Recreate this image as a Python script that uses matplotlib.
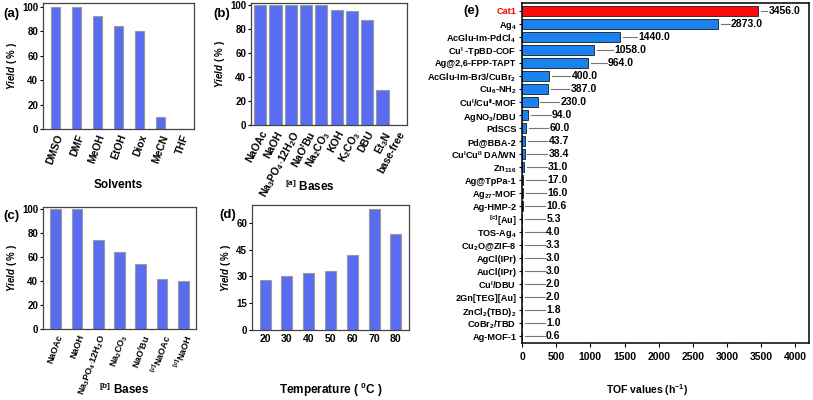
import matplotlib.pyplot as plt
import numpy as np

plt.rcParams['font.family'] = 'Liberation Sans'
plt.rcParams['font.weight'] = 'bold'
plt.rcParams['axes.labelweight'] = 'bold'
plt.rcParams['mathtext.fontset'] = 'custom'
plt.rcParams['mathtext.rm'] = 'Liberation Sans:bold'
plt.rcParams['mathtext.bf'] = 'Liberation Sans:bold'
plt.rcParams['mathtext.it'] = 'Liberation Sans:italic:bold'

# (a) solvents
solvents = ['DMSO', 'DMF', 'MeOH', 'EtOH', 'Diox', 'MeCN', 'THF']
solvent_yield = [100, 100, 92, 84, 80, 10, 0]

# (b) bases
bases_b = ['NaOAc', 'NaOH', r'Na$_3$PO$_4$$\cdot$12H$_2$O', r'NaO$^t$Bu', r'Na$_2$CO$_3$',
           'KOH', r'K$_2$CO$_3$', 'DBU', r'Et$_3$N', 'base-free']
bases_b_yield = [100, 100, 100, 100, 100, 96, 95, 88, 29, 0]

# (c) bases
bases_c = ['NaOAc', 'NaOH', r'Na$_3$PO$_4$$\cdot$12H$_2$O', r'Na$_2$CO$_3$', r'NaO$^t$Bu',
           r'$^{[c]}$NaOAc', r'$^{[c]}$NaOH']
bases_c_yield = [100, 100, 74, 64, 54, 42, 40]

# (d) temperature
temps = ['20', '30', '40', '50', '60', '70', '80']
temp_yield = [28, 30, 32, 33, 42, 68, 54]

# (e) TOF comparison
catalysts = ['Cat1', r'Ag$_4$', r'AcGlu-Im-PdCl$_4$', r'Cu$^{\mathrm{I}}$ -TpBD-COF', 'Ag@2,6-FPP-TAPT',
             r'AcGlu-Im-Br3/CuBr$_2$', r'Cu$_6$-NH$_2$', r'Cu$^{\mathrm{I}}$/Cu$^{\mathrm{II}}$-MOF',
             r'AgNO$_3$/DBU', 'PdSCS', 'Pd@BBA-2', r'Cu$^{\mathrm{I}}$Cu$^{\mathrm{II}}$ DA/WN',
             r'Zn$_{116}$', 'Ag@TpPa-1', r'Ag$_{27}$-MOF', 'Ag-HMP-2', r'$^{[c]}$[Au]',
             r'TOS-Ag$_4$', r'Cu$_2$O@ZIF-8', 'AgCl(IPr)', 'AuCl(IPr)', r'Cu$^{\mathrm{I}}$/DBU',
             '2Gn[TEG][Au]', r'ZnCl$_2$(TBD)$_2$', r'CoBr$_2$/TBD', 'Ag-MOF-1']
tof = [3456.0, 2873.0, 1440.0, 1058.0, 964.0, 400.0, 387.0, 230.0, 94.0, 60.0, 43.7, 38.4,
       31.0, 17.0, 16.0, 10.6, 5.3, 4.0, 3.3, 3.0, 3.0, 2.0, 2.0, 1.8, 1.0, 0.6]

BAR = '#5a6cf2'
EDGE = '#9a9a9a'
W, H = 813, 400

fig = plt.figure(figsize=(8.13, 4.0), dpi=100)


def px_axes(l, t, r, b):
    return fig.add_axes([l / W, 1 - b / H, (r - l) / W, (b - t) / H])


def yield_panel(ax, labels, vals, width, rot, ylim, yticks, fs=7.5):
    x = np.arange(len(vals))
    ax.bar(x, vals, width=width, color=BAR, edgecolor=EDGE, linewidth=0.8)
    ax.set_xlim(-0.6, len(vals) - 0.4)
    ax.set_ylim(*ylim)
    ax.set_yticks(yticks)
    ax.set_xticks(x)
    if rot:
        ax.set_xticklabels(labels, rotation=rot, ha='right', rotation_mode='anchor', fontsize=fs)
    else:
        ax.set_xticklabels(labels, fontsize=fs)
    ax.tick_params(axis='y', labelsize=7, length=2, width=0.8, pad=1.5)
    ax.tick_params(axis='x', length=0, pad=3)
    for s in ax.spines.values():
        s.set_color('#444444')
        s.set_linewidth(0.9)
    ax.set_ylabel(r'$\mathit{Yield}$ ( % )', fontsize=7, labelpad=2)


ax_a = px_axes(43, 3, 194, 129)
yield_panel(ax_a, solvents, solvent_yield, 0.4, 70, (0, 103), [0, 20, 40, 60, 80, 100])
ax_a.set_xlabel('Solvents', fontsize=8.5)
ax_a.xaxis.set_label_coords(0.5, -0.40)

ax_b = px_axes(251, 3, 407, 125)
yield_panel(ax_b, bases_b, bases_b_yield, 0.8, 62, (0, 102), [0, 20, 40, 60, 80, 100])
ax_b.set_xlabel(r'$^{[a]}$ Bases', fontsize=8.5)
ax_b.xaxis.set_label_coords(0.38, -0.445)

ax_c = px_axes(43, 207, 196, 329)
yield_panel(ax_c, bases_c, bases_c_yield, 0.5, 70, (0, 102), [0, 20, 40, 60, 80, 100], fs=6.5)
ax_c.set_xlabel(r'$^{[b]}$ Bases', fontsize=8.5)
ax_c.xaxis.set_label_coords(0.53, -0.43)

ax_d = px_axes(252, 205, 409, 330)
yield_panel(ax_d, temps, temp_yield, 0.5, 0, (0, 70), [0, 15, 30, 45, 60])
ax_d.set_xlabel(r'Temperature ( $^{0}$C )', fontsize=8.5)
ax_d.xaxis.set_label_coords(0.5, -0.41)

fig.text(3 / W, 1 - 14 / H, '(a)', fontsize=9.5, va='center')
fig.text(213 / W, 1 - 14 / H, '(b)', fontsize=9.5, va='center')
fig.text(3 / W, 1 - 216 / H, '(c)', fontsize=9.5, va='center')
fig.text(219 / W, 1 - 215 / H, '(d)', fontsize=9.5, va='center')
fig.text(463 / W, 1 - 11 / H, '(e)', fontsize=9.5, va='center')

# (e)
ax_e = px_axes(522, 3, 809, 343)
y = np.arange(len(tof))
colors = ['#ff0a0a'] + ['#1a82ee'] * (len(tof) - 1)
ax_e.barh(y, tof, height=0.75, color=colors, edgecolor='#1a1a1a', linewidth=0.6)
ax_e.set_ylim(len(tof) - 0.5, -0.6)
ax_e.set_xlim(0, 4200)
ax_e.set_xticks(np.arange(0, 4001, 500))
ax_e.set_yticks(y)
ax_e.set_yticklabels(catalysts, fontsize=6.6)
ax_e.get_yticklabels()[0].set_color('#ff0000')
ax_e.tick_params(axis='y', length=2, width=0.8, pad=2)
ax_e.tick_params(axis='x', length=3, width=0.8, labelsize=7.5)
for s in ax_e.spines.values():
    s.set_linewidth(1.1)
ax_e.set_xlabel(r'TOF values (h$^{-1}$)', fontsize=7.5)
ax_e.xaxis.set_label_coords(0.435, -0.115)

for yi, v in zip(y, tof):
    tx = v + 150 + 200 * (1 - v / tof[0])
    ax_e.plot([v + 40, tx - 20], [yi, yi], color='#777777', linewidth=0.8)
    ax_e.text(tx, yi, f'{v:.1f}', fontsize=7.5, va='center', ha='left')

fig.savefig('out.png', dpi=100)
